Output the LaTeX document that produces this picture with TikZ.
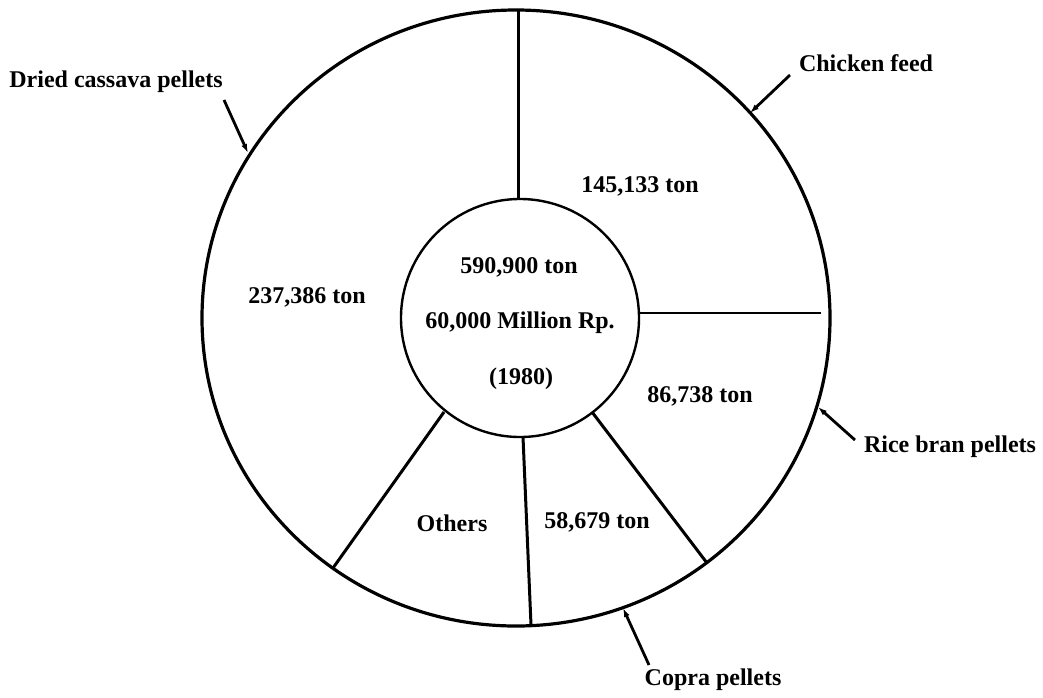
\documentclass[tikz,border=0pt]{standalone}
\usepackage{fontspec}
\setmainfont{Liberation Serif}
\usetikzlibrary{arrows.meta}
\begin{document}
\begin{tikzpicture}[x=1pt,y=-1pt,
  lbl/.style={font=\fontsize{24}{28}\selectfont\bfseries, inner sep=0pt, anchor=center},
  rim/.style={line width=3.2pt},
  spoke/.style={line width=3pt},
  thinspoke/.style={line width=1.8pt},
  pointer/.style={line width=2.8pt, -{Latex[length=9pt,width=6pt]}}]
\useasboundingbox (0,0) rectangle (1043,697);
\fill[white] (0,0) rectangle (1043,697);

% outer ring and central hub
\draw[rim] (516,318) ellipse [x radius=314, y radius=308];
\node (hub) [circle, draw, line width=2.4pt, minimum size=238pt, inner sep=0pt] at (520,318) {};

% points where the sector boundaries meet the hub and the rim
\coordinate (s1in) at (518,199);  \coordinate (s1out) at (518,10);
\coordinate (s2in) at (639,313);  \coordinate (s2out) at (821,313);
\coordinate (s3in) at (592,412);  \coordinate (s3out) at (707,563);
\coordinate (s4in) at (523,437);  \coordinate (s4out) at (531,625);
\coordinate (s5in) at (444,412);  \coordinate (s5out) at (333,568);

\draw[spoke] (s1in) -- (s1out);
\draw[thinspoke] (s2in) -- (s2out);
\draw[spoke] (s3in) -- (s3out);
\draw[spoke] (s4in) -- (s4out);
\draw[spoke] (s5in) -- (s5out);

% centre text
\node[lbl] (total) at (519,267) {590,900 ton};
\node[lbl] (value) at (520,323) {60,000 Million Rp.};
\node[lbl] (year)  at (521,379) {(1980)};

% sector values
\node[lbl] (vcassava) at (307,297) {237,386 ton};
\node[lbl] (vchicken) at (640,186) {145,133 ton};
\node[lbl] (vrice)    at (700,396) {86,738 ton};
\node[lbl] (vcopra)   at (597,522) {58,679 ton};
\node[lbl] (vothers)  at (452,523) {Others};

% outside labels with pointers to the rim
\node[lbl] (lcassava) at (116,82)  {Dried cassava pellets};
\node[lbl] (lchicken) at (866,63)  {Chicken feed};
\node[lbl] (lrice)    at (950,447) {Rice bran pellets};
\node[lbl] (lcopra)   at (713,680) {Copra pellets};

\coordinate (pcassava) at (224,100); \coordinate (rcassava) at (248,153);
\coordinate (pchicken) at (790,75);  \coordinate (rchicken) at (750,113);
\coordinate (price)    at (855,440); \coordinate (rrice)    at (818,407);
\coordinate (pcopra)   at (649,665); \coordinate (rcopra)   at (623,608);

\draw[pointer] (pcassava) -- (rcassava);
\draw[pointer] (pchicken) -- (rchicken);
\draw[pointer] (price) -- (rrice);
\draw[pointer] (pcopra) -- (rcopra);
\end{tikzpicture}
\end{document}
